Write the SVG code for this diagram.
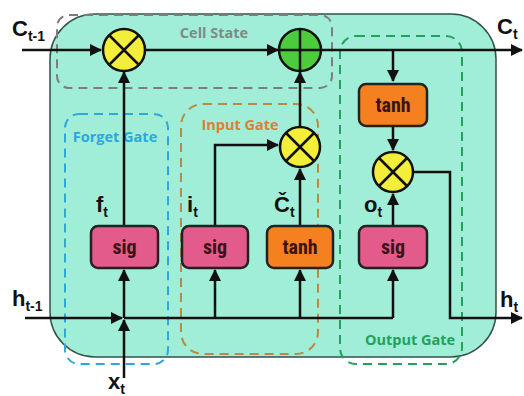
<svg xmlns="http://www.w3.org/2000/svg" width="524" height="396" viewBox="0 0 524 396">
<defs>
<marker id="ah" markerWidth="12" markerHeight="12" refX="11" refY="6" orient="auto" markerUnits="userSpaceOnUse">
<path d="M0,0 L12,6 L0,12 Z" fill="#111"/>
</marker>
<style>
.ln{fill:none;stroke:#111;stroke-width:2.5}
.mul{fill:#f3ee3a;stroke:#111;stroke-width:2.5}
.add{fill:#4ccb3c;stroke:#111;stroke-width:2.5}
.x{stroke:#111;stroke-width:2.5}
.sig{fill:#e35b8b;stroke:#222;stroke-width:2.5}
.tanh{fill:#f5801f;stroke:#222;stroke-width:2.5}
.bt{font-family:"Liberation Sans Narrow","Roboto Condensed","Liberation Sans",Arial,sans-serif;font-size:20px;font-weight:bold;fill:#3a1218;text-anchor:middle}
.lab{font-family:"Liberation Sans Narrow","Liberation Sans",Arial,sans-serif;font-weight:bold;font-size:22px;fill:#111}
.sub{font-size:14px}
.gt{font-family:"Open Sans","Liberation Sans",sans-serif;font-weight:bold;font-size:14.5px;text-anchor:middle}
.dash{fill:none;stroke-width:2;stroke-dasharray:9,6}
</style>
</defs>
<rect width="524" height="396" fill="#fff"/>
<g id="cell">
<rect x="50" y="14" width="446" height="343" rx="45" fill="#a0eed7" stroke="#35524a" stroke-width="1.5"/>
</g>
<g id="cell-state-box">
<rect class="dash" x="57" y="15" width="275" height="73" rx="12" stroke="#7d7d7d"/>
<text class="gt" x="214" y="38" fill="#7f8a86">Cell State</text>
</g>
<g id="forget-gate-box">
<rect class="dash" x="65" y="114" width="103" height="250" rx="14" stroke="#2aa8df"/>
<text class="gt" x="115" y="142" fill="#2aa8df">Forget Gate</text>
</g>
<g id="input-gate-box">
<rect class="dash" x="181" y="104" width="137" height="250" rx="22" stroke="#b98a45"/>
<text class="gt" x="240" y="130" fill="#e07e38">Input Gate</text>
</g>
<g id="output-gate-box">
<rect class="dash" x="340" y="36" width="122" height="328" rx="16" stroke="#23a15a"/>
<text class="gt" x="410" y="345" fill="#23a15a">Output Gate</text>
</g>
<g id="connectors">
<path class="ln" d="M22,50 H101" marker-end="url(#ah)"/>
<path class="ln" d="M146,50 H278" marker-end="url(#ah)"/>
<path class="ln" d="M321,50 H522" marker-end="url(#ah)"/>
<path class="ln" d="M393,50 V81" marker-end="url(#ah)"/>
<path class="ln" d="M393,126 V150" marker-end="url(#ah)"/>
<path class="ln" d="M393,226 V194" marker-end="url(#ah)"/>
<path class="ln" d="M414,172 H450 V318 H522" marker-end="url(#ah)"/>
<path class="ln" d="M25,318 H122" marker-end="url(#ah)"/>
<path class="ln" d="M124,378 V320" marker-end="url(#ah)"/>
<path class="ln" d="M124,318 H393"/>
<path class="ln" d="M124,318 V270" marker-end="url(#ah)"/>
<path class="ln" d="M124,226 V72" marker-end="url(#ah)"/>
<path class="ln" d="M215,318 V270" marker-end="url(#ah)"/>
<path class="ln" d="M300,318 V270" marker-end="url(#ah)"/>
<path class="ln" d="M393,318 V270" marker-end="url(#ah)"/>
<path class="ln" d="M215,226 V145 H278" marker-end="url(#ah)"/>
<path class="ln" d="M300,226 V169" marker-end="url(#ah)"/>
<path class="ln" d="M300,126 V72" marker-end="url(#ah)"/>
</g>
<g id="mul-forget">
<circle class="mul" cx="124" cy="50" r="21"/>
<path class="x" d="M109,35 L139,65 M139,35 L109,65"/>
</g>
<g id="add-cell">
<circle class="add" cx="300" cy="50" r="21"/>
<path class="x" d="M279,50 H321 M300,29 V71"/>
</g>
<g id="mul-input">
<circle class="mul" cx="300" cy="147" r="20"/>
<path class="x" d="M286,133 L314,161 M314,133 L286,161"/>
</g>
<g id="mul-output">
<circle class="mul" cx="393" cy="172" r="20"/>
<path class="x" d="M379,158 L407,186 M407,158 L379,186"/>
</g>
<g id="sig-forget">
<rect class="sig" x="91" y="226" width="67" height="42" rx="7"/>
<text class="bt" x="124.5" y="254">sig</text>
</g>
<g id="sig-input">
<rect class="sig" x="182" y="226" width="66" height="42" rx="7"/>
<text class="bt" x="215" y="254">sig</text>
</g>
<g id="tanh-input">
<rect class="tanh" x="267" y="226" width="66" height="42" rx="7"/>
<text class="bt" x="300" y="254">tanh</text>
</g>
<g id="sig-output">
<rect class="sig" x="359" y="226" width="68" height="42" rx="7"/>
<text class="bt" x="393" y="254">sig</text>
</g>
<g id="tanh-output">
<rect class="tanh" x="359" y="84" width="68" height="42" rx="7"/>
<text class="bt" x="393" y="112">tanh</text>
</g>
<g id="labels">
<text class="lab" x="12" y="36">C<tspan class="sub" dy="5">t-1</tspan></text>
<text class="lab" x="497" y="34">C<tspan class="sub" dy="5">t</tspan></text>
<text class="lab" x="12" y="306">h<tspan class="sub" dy="5">t-1</tspan></text>
<text class="lab" x="500" y="307">h<tspan class="sub" dy="5">t</tspan></text>
<text class="lab" x="108" y="389">x<tspan class="sub" dy="5">t</tspan></text>
<text class="lab" x="96" y="212">f<tspan class="sub" dy="5">t</tspan></text>
<text class="lab" x="187" y="212">i<tspan class="sub" dy="5">t</tspan></text>
<text class="lab" x="274" y="212">Č<tspan class="sub" dy="5">t</tspan></text>
<text class="lab" x="364" y="212">o<tspan class="sub" dy="5">t</tspan></text>
</g>
</svg>
